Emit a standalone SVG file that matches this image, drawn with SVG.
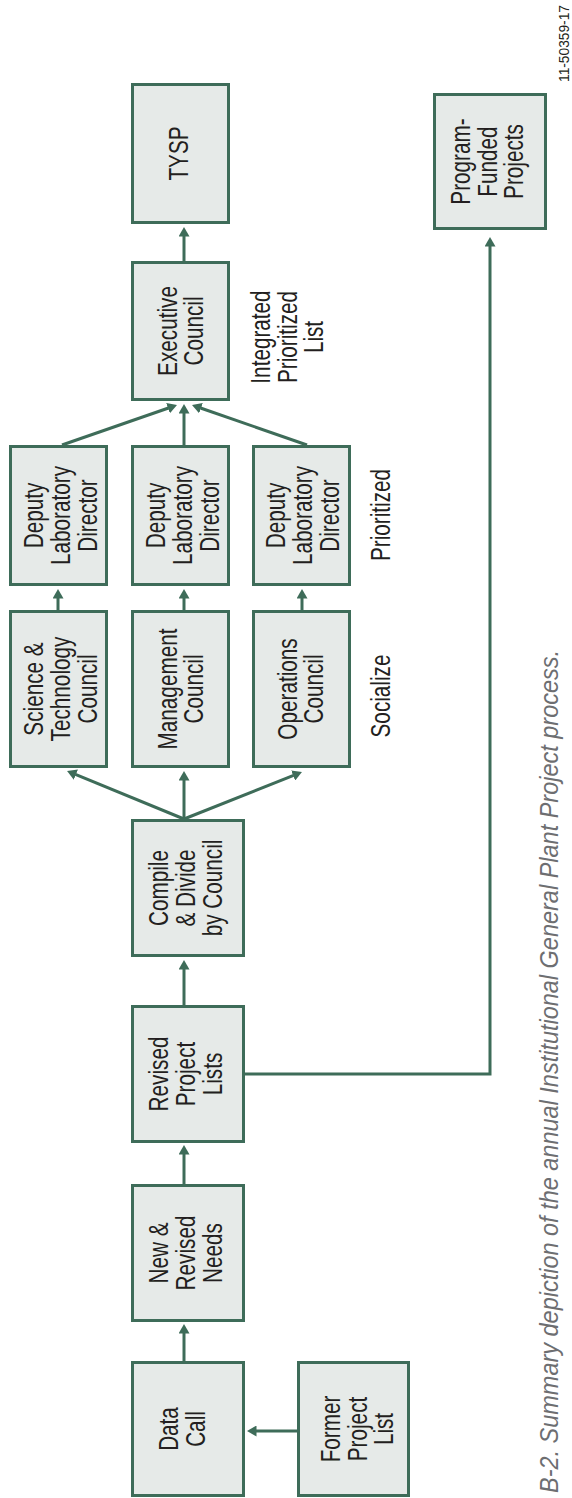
<svg xmlns="http://www.w3.org/2000/svg" width="572" height="1498" viewBox="0 0 572 1498">
<style>
.box{fill:#e6eae8;stroke:#3e6c59;stroke-width:3}
.t{font-family:"Liberation Sans",Arial,sans-serif;font-size:28px;fill:#231f20}
.c{fill:none;stroke:#3e6c59;stroke-width:3}
.cap{font-family:"Liberation Sans",Arial,sans-serif;font-size:25px;font-style:italic;fill:#6d6e71}
.code{font-family:"Liberation Sans",Arial,sans-serif;font-size:15px;fill:#231f20}
</style>
<defs>
<marker id="ah" markerUnits="userSpaceOnUse" markerWidth="10" markerHeight="11" refX="0.5" refY="5.5" orient="auto" viewBox="0 0 10 11">
<path d="M0,0 L9.5,5.5 L0,11 z" fill="#3e6c59"/>
</marker>
</defs>
<rect width="572" height="1498" fill="#ffffff"/>
<g id="connectors">
<line class="c" x1="184" y1="1361" x2="184" y2="1333" marker-end="url(#ah)"/>
<line class="c" x1="184" y1="1184" x2="184" y2="1154" marker-end="url(#ah)"/>
<line class="c" x1="184" y1="1005" x2="184" y2="969" marker-end="url(#ah)"/>
<line class="c" x1="184" y1="819" x2="75.4" y2="774.4" marker-end="url(#ah)"/>
<line class="c" x1="184" y1="819" x2="184" y2="780" marker-end="url(#ah)"/>
<line class="c" x1="184" y1="819" x2="293.6" y2="775.3" marker-end="url(#ah)"/>
<line class="c" x1="58" y1="610" x2="58" y2="598" marker-end="url(#ah)"/>
<line class="c" x1="184" y1="610" x2="184" y2="598" marker-end="url(#ah)"/>
<line class="c" x1="302" y1="610" x2="302" y2="598" marker-end="url(#ah)"/>
<line class="c" x1="62" y1="445" x2="168.5" y2="408" marker-end="url(#ah)"/>
<line class="c" x1="184" y1="445" x2="184" y2="413" marker-end="url(#ah)"/>
<line class="c" x1="307" y1="445" x2="200.5" y2="408" marker-end="url(#ah)"/>
<line class="c" x1="184" y1="261" x2="184" y2="236" marker-end="url(#ah)"/>
<polyline class="c" points="245,1074 490,1074 490,246" marker-end="url(#ah)"/>
<line class="c" x1="297" y1="1431" x2="256" y2="1431" marker-end="url(#ah)"/>
</g>
<g id="tysp">
<rect class="box" x="132.5" y="84.5" width="96" height="138"/>
<text class="t" transform="translate(0,153.5) rotate(-90) scale(0.74,1)" text-anchor="middle"><tspan x="0" y="188">TYSP</tspan></text>
</g>
<g id="executive">
<rect class="box" x="132.5" y="262.5" width="96" height="137"/>
<text class="t" transform="translate(0,331) rotate(-90) scale(0.74,1)" text-anchor="middle"><tspan x="0" y="177">Executive</tspan><tspan x="0" y="203">Council</tspan></text>
</g>
<g id="deputy1">
<rect class="box" x="10.5" y="446.5" width="96" height="138"/>
<text class="t" transform="translate(0,515.5) rotate(-90) scale(0.74,1)" text-anchor="middle"><tspan x="0" y="43">Deputy</tspan><tspan x="0" y="70">Laboratory</tspan><tspan x="0" y="97">Director</tspan></text>
</g>
<g id="deputy2">
<rect class="box" x="132.5" y="446.5" width="96" height="138"/>
<text class="t" transform="translate(0,515.5) rotate(-90) scale(0.74,1)" text-anchor="middle"><tspan x="0" y="165">Deputy</tspan><tspan x="0" y="192">Laboratory</tspan><tspan x="0" y="219">Director</tspan></text>
</g>
<g id="deputy3">
<rect class="box" x="253.5" y="446.5" width="96" height="138"/>
<text class="t" transform="translate(0,515.5) rotate(-90) scale(0.74,1)" text-anchor="middle"><tspan x="0" y="285">Deputy</tspan><tspan x="0" y="312">Laboratory</tspan><tspan x="0" y="339">Director</tspan></text>
</g>
<g id="science">
<rect class="box" x="10.5" y="611.5" width="96" height="155"/>
<text class="t" transform="translate(0,689) rotate(-90) scale(0.74,1)" text-anchor="middle"><tspan x="0" y="43">Science &amp;</tspan><tspan x="0" y="70">Technology</tspan><tspan x="0" y="97">Council</tspan></text>
</g>
<g id="management">
<rect class="box" x="132.5" y="611.5" width="96" height="155"/>
<text class="t" transform="translate(0,689) rotate(-90) scale(0.74,1)" text-anchor="middle"><tspan x="0" y="177">Management</tspan><tspan x="0" y="203">Council</tspan></text>
</g>
<g id="operations">
<rect class="box" x="253.5" y="611.5" width="96" height="155"/>
<text class="t" transform="translate(0,689) rotate(-90) scale(0.74,1)" text-anchor="middle"><tspan x="0" y="297">Operations</tspan><tspan x="0" y="323">Council</tspan></text>
</g>
<g id="compile">
<rect class="box" x="132.5" y="820.5" width="111" height="135"/>
<text class="t" transform="translate(0,888) rotate(-90) scale(0.74,1)" text-anchor="middle"><tspan x="0" y="168">Compile</tspan><tspan x="0" y="195">&amp; Divide</tspan><tspan x="0" y="222">by Council</tspan></text>
</g>
<g id="revised">
<rect class="box" x="132.5" y="1006.5" width="111" height="135"/>
<text class="t" transform="translate(0,1074) rotate(-90) scale(0.74,1)" text-anchor="middle"><tspan x="0" y="168">Revised</tspan><tspan x="0" y="195">Project</tspan><tspan x="0" y="222">Lists</tspan></text>
</g>
<g id="newneeds">
<rect class="box" x="132.5" y="1185.5" width="111" height="135"/>
<text class="t" transform="translate(0,1253) rotate(-90) scale(0.74,1)" text-anchor="middle"><tspan x="0" y="168">New &amp;</tspan><tspan x="0" y="195">Revised</tspan><tspan x="0" y="222">Needs</tspan></text>
</g>
<g id="datacall">
<rect class="box" x="132.5" y="1362.5" width="111" height="133"/>
<text class="t" transform="translate(0,1429) rotate(-90) scale(0.74,1)" text-anchor="middle"><tspan x="0" y="178">Data</tspan><tspan x="0" y="205">Call</tspan></text>
</g>
<g id="former">
<rect class="box" x="298.5" y="1362.5" width="110" height="133"/>
<text class="t" transform="translate(0,1429) rotate(-90) scale(0.74,1)" text-anchor="middle"><tspan x="0" y="340">Former</tspan><tspan x="0" y="367">Project</tspan><tspan x="0" y="393">List</tspan></text>
</g>
<g id="program">
<rect class="box" x="434.5" y="94.5" width="111" height="134"/>
<text class="t" transform="translate(0,161.5) rotate(-90) scale(0.74,1)" text-anchor="middle"><tspan x="0" y="470">Program-</tspan><tspan x="0" y="497">Funded</tspan><tspan x="0" y="523">Projects</tspan></text>
</g>
<g id="labels">
<text class="t" transform="translate(0,337) rotate(-90) scale(0.74,1)" text-anchor="middle"><tspan x="0" y="270">Integrated</tspan><tspan x="0" y="297">Prioritized</tspan><tspan x="0" y="323">List</tspan></text>
<text class="t" transform="translate(0,515) rotate(-90) scale(0.74,1)" text-anchor="middle"><tspan x="0" y="390">Prioritized</tspan></text>
<text class="t" transform="translate(0,696) rotate(-90) scale(0.74,1)" text-anchor="middle"><tspan x="0" y="390">Socialize</tspan></text>
<text class="cap" transform="translate(0,1493) rotate(-90)" x="0" y="558" textLength="843" lengthAdjust="spacingAndGlyphs">B-2. Summary depiction of the annual Institutional General Plant Project process.</text>
<text class="code" transform="translate(0,82) rotate(-90)" x="0" y="569" textLength="77" lengthAdjust="spacingAndGlyphs">11-50359-17</text>
</g>
</svg>
